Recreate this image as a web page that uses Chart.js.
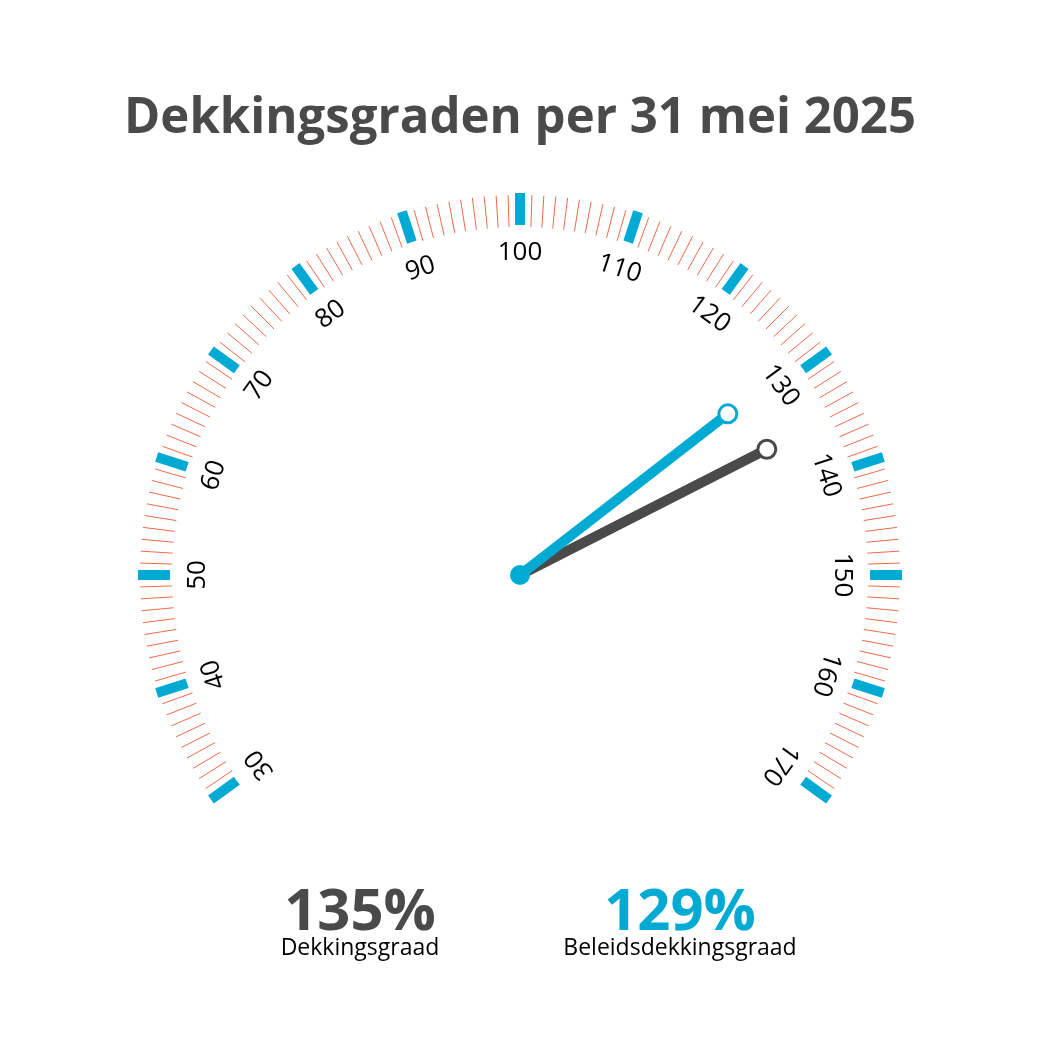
<!DOCTYPE html>
<html>
    <head>
        <title>Dekkingsgraden</title>
        <script src="https://cdn.jsdelivr.net/npm/chart.js"></script>
        <style>
         body { margin: 0; background: #ffffff; }
         #wrap { width: 1042px; height: 1042px; position: relative; }
        </style>
    </head>
    <body>
        <div id="wrap"><canvas id="gauge"></canvas></div>
        <script>
        // data
        const title = "Dekkingsgraden per 31 mei 2025";
        const scaleMin = 30;
        const scaleMax = 170;
        const majorTicks = [30, 40, 50, 60, 70, 80, 90, 100, 110, 120, 130, 140, 150, 160, 170];
        const seriesLabels = ["Dekkingsgraad", "Beleidsdekkingsgraad"];
        const seriesValues = [135, 129];

        // looks
        const BLUE = "#00aad3";
        const GREY = "#4a4a4a";
        const RED = "#f06a48";
        const FONT = "'Open Sans', sans-serif";
        const needleLen = [277, 263];
        const PAD = 14; // chart area inset (point overflow), scales below are 1 unit = 1px

        // value -> angle, 1.8 deg per unit, 100 at the top
        function pos(v, r) {
            const a = (v - 100) * 1.8 * Math.PI / 180;
            return { x: r * Math.sin(a), y: r * Math.cos(a) };
        }

        const minorData = [];
        for (let v = scaleMin; v <= scaleMax; v++) {
            if (majorTicks.includes(v)) continue;
            minorData.push(pos(v, 348), pos(v, 380), { x: null, y: null });
        }
        const majorData = [];
        majorTicks.forEach(v => {
            majorData.push(pos(v, 350), pos(v, 382), { x: null, y: null });
        });

        const textPlugin = {
            id: 'texts',
            afterDatasetsDraw(chart) {
                const ctx = chart.ctx;
                const xs = chart.scales.x, ys = chart.scales.y;
                ctx.save();
                ctx.textAlign = 'center';
                ctx.textBaseline = 'middle';
                ctx.fillStyle = '#000';
                ctx.font = '26px ' + FONT;
                majorTicks.forEach(v => {
                    const p = pos(v, 322);
                    ctx.save();
                    ctx.translate(xs.getPixelForValue(p.x), ys.getPixelForValue(p.y));
                    ctx.rotate((v - 100) * 1.8 * Math.PI / 180);
                    ctx.fillText(String(v), 0, 0);
                    ctx.restore();
                });

                ctx.textBaseline = 'alphabetic';
                ctx.fillStyle = GREY;
                ctx.font = 'bold 50px ' + FONT;
                ctx.fillText(title, 520, 133, 792);

                const cx = [360, 680];
                const cols = [GREY, BLUE];
                seriesValues.forEach((v, i) => {
                    ctx.fillStyle = cols[i];
                    ctx.font = 'bold 58px ' + FONT;
                    ctx.fillText(v + '%', cx[i], 930);
                    ctx.fillStyle = '#000';
                    ctx.font = '23px ' + FONT;
                    ctx.fillText(seriesLabels[i], cx[i], 955);
                });
                ctx.restore();
            }
        };

        const ctx = document.getElementById('gauge').getContext('2d');
        new Chart(ctx, {
            type: 'scatter',
            data: {
                datasets: [
                    {
                        label: seriesLabels[1],
                        data: [pos(seriesValues[1], 0), pos(seriesValues[1], needleLen[1])],
                        showLine: true,
                        borderColor: BLUE,
                        borderWidth: 10,
                        pointRadius: [10, 9],
                        pointBorderWidth: [0, 3],
                        pointBackgroundColor: [BLUE, '#fff'],
                        pointBorderColor: BLUE,
                        order: 0
                    },
                    {
                        label: seriesLabels[0],
                        data: [pos(seriesValues[0], 0), pos(seriesValues[0], needleLen[0])],
                        showLine: true,
                        borderColor: GREY,
                        borderWidth: 10,
                        pointRadius: [0, 9],
                        pointBorderWidth: 3,
                        pointBackgroundColor: '#fff',
                        pointBorderColor: GREY,
                        order: 1
                    },
                    {
                        label: 'major',
                        data: majorData,
                        showLine: true,
                        spanGaps: false,
                        borderColor: BLUE,
                        borderWidth: 10,
                        borderCapStyle: 'butt',
                        pointRadius: 0,
                        order: 2
                    },
                    {
                        label: 'minor',
                        data: minorData,
                        showLine: true,
                        spanGaps: false,
                        borderColor: RED,
                        borderWidth: 1,
                        pointRadius: 0,
                        order: 3
                    }
                ]
            },
            options: {
                responsive: true,
                maintainAspectRatio: false,
                animation: false,
                events: [],
                layout: { padding: PAD },
                plugins: {
                    legend: { display: false },
                    tooltip: { enabled: false },
                    title: { display: false }
                },
                scales: {
                    x: { type: 'linear', min: -(520 - PAD), max: 1042 - PAD - 520, display: false },
                    y: { type: 'linear', min: -(1042 - PAD - 575), max: 575 - PAD, display: false }
                }
            },
            plugins: [textPlugin]
        });
        </script>
    </body>
</html>
